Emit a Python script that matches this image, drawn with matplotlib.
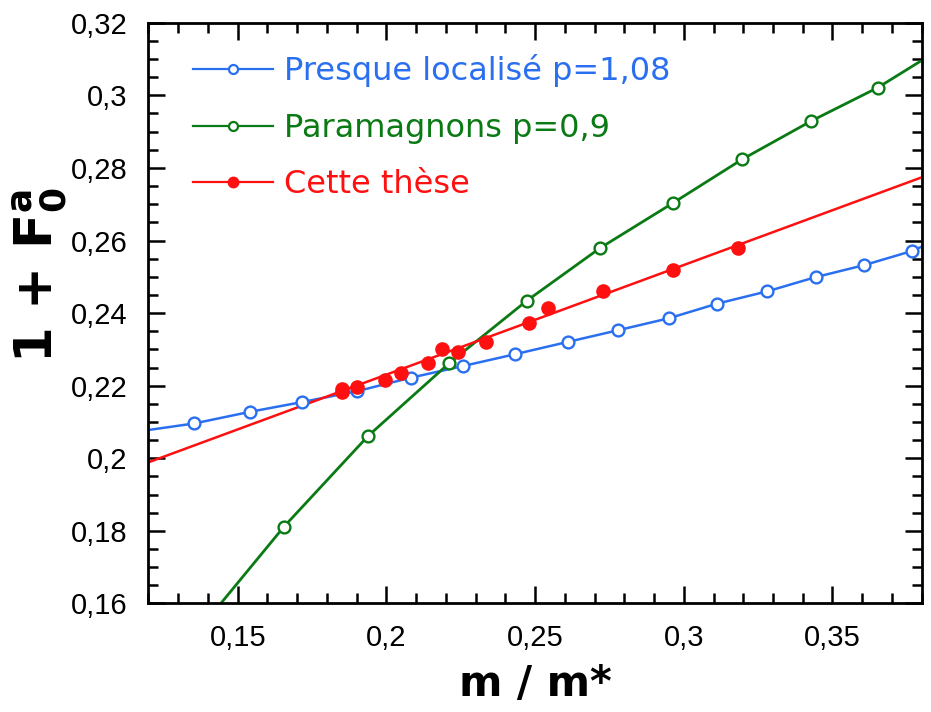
import matplotlib
matplotlib.use("Agg")
import matplotlib.pyplot as plt
from matplotlib.ticker import MultipleLocator, FuncFormatter
from matplotlib.lines import Line2D

# ---- data ----
blue_x = [0.1354, 0.1541, 0.1717, 0.1902, 0.2082, 0.2257, 0.2434, 0.2612, 0.2780,
          0.2951, 0.3112, 0.3281, 0.3443, 0.3606, 0.3767]
blue_y = [0.2096, 0.2128, 0.2155, 0.2185, 0.2222, 0.2254, 0.2287, 0.2321, 0.2353,
          0.2386, 0.2426, 0.2460, 0.2499, 0.2532, 0.2571]
blue_ends_x = [0.12, 0.38]
blue_ends_y = [0.2078, 0.2583]

green_x = [0.1656, 0.1939, 0.2211, 0.2472, 0.2718, 0.2965, 0.3197, 0.3428, 0.3652]
green_y = [0.1812, 0.2062, 0.2262, 0.2434, 0.2579, 0.2704, 0.2824, 0.2929, 0.3021]
green_ends_x = [0.1443, 0.3794]
green_ends_y = [0.1600, 0.3093]

red_x = [0.1850, 0.1850, 0.1902, 0.1995, 0.2049, 0.2141, 0.2188, 0.2242, 0.2334,
         0.2480, 0.2544, 0.2727, 0.2965, 0.3181]
red_y = [0.2183, 0.2192, 0.2196, 0.2216, 0.2234, 0.2262, 0.2302, 0.2294, 0.2320,
         0.2374, 0.2415, 0.2461, 0.2519, 0.2579]
red_fit_x = [0.12, 0.38]
red_fit_y = [0.1989, 0.2774]

labels = ["Presque localisé p=1,08", "Paramagnons p=0,9", "Cette thèse"]
colors = ["#2a6ff0", "#0a7a14", "#ff1010"]

fig = plt.figure(figsize=(9.31, 7.12), dpi=100)
ax = fig.add_axes([0.1595, 0.1524, 0.8305, 0.8157])

bx = [blue_ends_x[0]] + blue_x + [blue_ends_x[1]]
by = [blue_ends_y[0]] + blue_y + [blue_ends_y[1]]
ax.plot(bx, by, color=colors[0], lw=1.8, zorder=2)
ax.plot(blue_x, blue_y, ls="none", marker="o", ms=8.5, mfc="white", mec=colors[0], mew=1.7, zorder=3)

gx = [green_ends_x[0]] + green_x + [green_ends_x[1]]
gy = [green_ends_y[0]] + green_y + [green_ends_y[1]]
ax.plot(gx, gy, color=colors[1], lw=2.0, zorder=2)
ax.plot(green_x, green_y, ls="none", marker="o", ms=8.5, mfc="white", mec=colors[1], mew=1.7, zorder=3)

ax.plot(red_fit_x, red_fit_y, color=colors[2], lw=1.8, zorder=2)
ax.plot(red_x, red_y, ls="none", marker="o", ms=9.5, mfc=colors[2], mec=colors[2], zorder=4)

ax.set_xlim(0.12, 0.38)
ax.set_ylim(0.16, 0.32)

ax.xaxis.set_major_locator(MultipleLocator(0.05))
ax.xaxis.set_minor_locator(MultipleLocator(0.01))
ax.yaxis.set_major_locator(MultipleLocator(0.02))
ax.yaxis.set_minor_locator(MultipleLocator(0.005))

def fmt(v, pos):
    s = ("%.3f" % v).rstrip("0").rstrip(".")
    return s.replace(".", ",")

ax.xaxis.set_major_formatter(FuncFormatter(fmt))
ax.yaxis.set_major_formatter(FuncFormatter(fmt))

ax.tick_params(which="both", direction="in", top=True, right=True, width=1.8,
               labelsize=21, colors="black")
ax.tick_params(which="major", length=12)
ax.tick_params(axis="y", which="major", pad=15)
ax.tick_params(axis="x", which="major", pad=15)
ax.tick_params(which="minor", length=7)
for lab in ax.get_xticklabels() + ax.get_yticklabels():
    lab.set_fontfamily("Liberation Sans")
for sp in ax.spines.values():
    sp.set_linewidth(2)

ax.set_xlabel("m / m*", fontsize=30, fontweight="bold", fontfamily="DejaVu Sans", labelpad=8)
ax.set_ylabel(r"1 + F$_{\mathregular{0}}^{\mathregular{a}}$", fontsize=37, fontweight="bold",
              fontfamily="DejaVu Sans", va="center", ha="center")
ax.yaxis.set_label_coords(-0.14, 0.565)

handles = [
    Line2D([], [], color=colors[0], lw=1.6, marker="o", ms=6.5, mfc="white", mec=colors[0], mew=1.6),
    Line2D([], [], color=colors[1], lw=1.6, marker="o", ms=6.5, mfc="white", mec=colors[1], mew=1.6),
    Line2D([], [], color=colors[2], lw=1.6, marker="o", ms=7.5, mfc=colors[2], mec=colors[2]),
]
leg = ax.legend(handles, labels, loc="upper left", frameon=False, numpoints=1,
                handlelength=2.5, handletextpad=0.35, labelspacing=0.8,
                bbox_to_anchor=(0.02, 0.995), prop={"family": "DejaVu Sans", "size": 23})
for t, c in zip(leg.get_texts(), colors):
    t.set_color(c)

fig.savefig("out.png", dpi=100)
